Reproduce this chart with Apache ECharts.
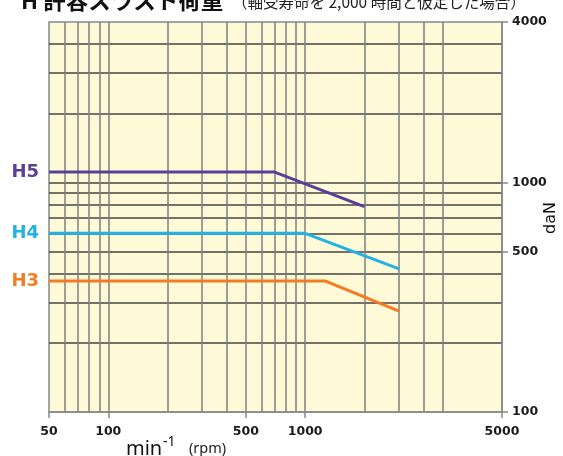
<!DOCTYPE html>
<html>
<head>
<meta charset="utf-8">
<script src="https://cdn.jsdelivr.net/npm/echarts@6/dist/echarts.min.js"></script>
<style>
html,body{margin:0;padding:0;background:#fff;}
#chart{width:563px;height:456px;}
</style>
</head>
<body>
<div id="chart"></div>
<script>
// ---- data ----
const seriesNames = ['H5', 'H4', 'H3'];
const h5Rpm = [50, 700, 2000];
const h5Load = [1110, 1110, 785];
const h4Rpm = [50, 1000, 3000];
const h4Load = [600, 600, 420];
const h3Rpm = [50, 1270, 3000];
const h3Load = [372, 372, 275];
const seriesColors = ['#5a3f98', '#22b2e5', '#f47b20'];

// axes
const xMin = 50, xMax = 10000;
const yMin = 100, yMax = 5000;
const xGridValues = [60, 70, 80, 90, 100, 200, 300, 400, 500, 600, 700, 800, 900, 1000, 2000, 3000, 4000, 5000];
const yGridValues = [200, 300, 400, 500, 600, 700, 800, 900, 1000, 2000, 3000, 4000];
const xTickValues = [50, 100, 500, 1000, 10000];
const xTickLabels = ['50', '100', '500', '1000', '5000'];
const yTickValues = [100, 500, 1000, 5000];
const yTickLabels = ['100', '500', '1000', '4000'];

const titleMain = 'H 許容スラスト荷重';
const titleSub = '（軸受寿命を 2,000 時間と仮定した場合）';
const yAxisTitle = 'daN';

function zip(a, b) { return a.map((v, i) => [v, b[i]]); }
function labelFor(values, labels) {
  return function (v) {
    let best = -1, bd = Infinity;
    values.forEach((t, i) => { const d = Math.abs(Math.log(v) - Math.log(t)); if (d < bd) { bd = d; best = i; } });
    return bd < 0.01 ? labels[best] : '';
  };
}

const chart = echarts.init(document.getElementById('chart'), null, { renderer: 'canvas' });
const lblFont = { fontFamily: 'DejaVu Sans', fontWeight: 'bold', fontSize: 12.5, color: '#1a1a1a' };

const seriesData = [zip(h5Rpm, h5Load), zip(h4Rpm, h4Load), zip(h3Rpm, h3Load)];

chart.setOption({
  animation: false,
  grid: {
    left: 49, right: 61, top: 22, bottom: 44,
    show: true, backgroundColor: '#fefad8', borderColor: '#888', borderWidth: 1.5
  },
  xAxis: [
    {
      type: 'log', min: xMin, max: xMax, position: 'bottom',
      axisLine: { show: false },
      axisTick: { show: false, customValues: xGridValues },
      axisLabel: { show: false, customValues: xGridValues },
      splitLine: { show: true, customValues: xGridValues, lineStyle: { color: '#7f7f7f', width: 1.5 } }
    },
    {
      type: 'log', min: xMin, max: xMax, position: 'bottom',
      axisLine: { show: true, lineStyle: { color: '#888', width: 1.5 } },
      axisTick: { show: true, inside: false, length: 6, customValues: xTickValues, lineStyle: { color: '#888', width: 1.5 } },
      axisLabel: Object.assign({ show: true, margin: 13, customValues: xTickValues, formatter: labelFor(xTickValues, xTickLabels), showMinLabel: true, showMaxLabel: true }, lblFont),
      splitLine: { show: false }
    }
  ],
  yAxis: [
    {
      type: 'log', min: yMin, max: yMax, position: 'right',
      axisLine: { show: false },
      axisTick: { show: false, customValues: yGridValues },
      axisLabel: { show: false, customValues: yGridValues },
      splitLine: { show: true, customValues: yGridValues, lineStyle: { color: '#454545', width: 1.5 } }
    },
    {
      type: 'log', min: yMin, max: yMax, position: 'right',
      axisLine: { show: true, lineStyle: { color: '#888', width: 1.5 } },
      axisTick: { show: true, inside: false, length: 6, customValues: yTickValues, lineStyle: { color: '#888', width: 1.5 } },
      axisLabel: Object.assign({ show: true, margin: 10, customValues: yTickValues, formatter: labelFor(yTickValues, yTickLabels), showMinLabel: true, showMaxLabel: true }, lblFont),
      splitLine: { show: false }
    }
  ],
  graphic: [
    { type: 'text', x: 21, y: 0, style: { text: titleMain, font: 'bold 22.5px "Noto Sans CJK JP"', fill: '#111', verticalAlign: 'middle' } },
    { type: 'text', x: 232, y: 2, style: { text: titleSub, font: '15.5px "Noto Sans CJK JP"', fill: '#222', verticalAlign: 'middle' } },
    { type: 'text', x: 126, y: 449, style: { text: 'min', font: '20px "Noto Sans"', fill: '#111', verticalAlign: 'middle' } },
    { type: 'text', x: 163, y: 442, style: { text: '-1', font: '14px "Noto Sans"', fill: '#111', verticalAlign: 'middle' } },
    { type: 'text', x: 189, y: 449, style: { text: '(rpm)', font: '14.5px "Noto Sans"', fill: '#222', verticalAlign: 'middle' } },
    { type: 'text', x: 551, y: 218, rotation: Math.PI / 2, style: { text: yAxisTitle, font: '16px "DejaVu Sans"', fill: '#111', align: 'center', verticalAlign: 'middle' } }
  ],
  series: seriesNames.map((name, i) => ({
    name: name,
    type: 'line',
    xAxisIndex: 0, yAxisIndex: 0,
    data: seriesData[i],
    symbol: 'circle', symbolSize: 0, showSymbol: true,
    lineStyle: { color: seriesColors[i], width: 3 },
    itemStyle: { color: seriesColors[i] },
    label: {
      show: true, position: 'left', distance: 10,
      formatter: p => p.dataIndex === 0 ? p.seriesName : '',
      color: seriesColors[i], fontFamily: 'DejaVu Sans', fontWeight: 'bold', fontSize: 18
    },
    emphasis: { disabled: true },
    silent: true
  }))
});
</script>
</body>
</html>
